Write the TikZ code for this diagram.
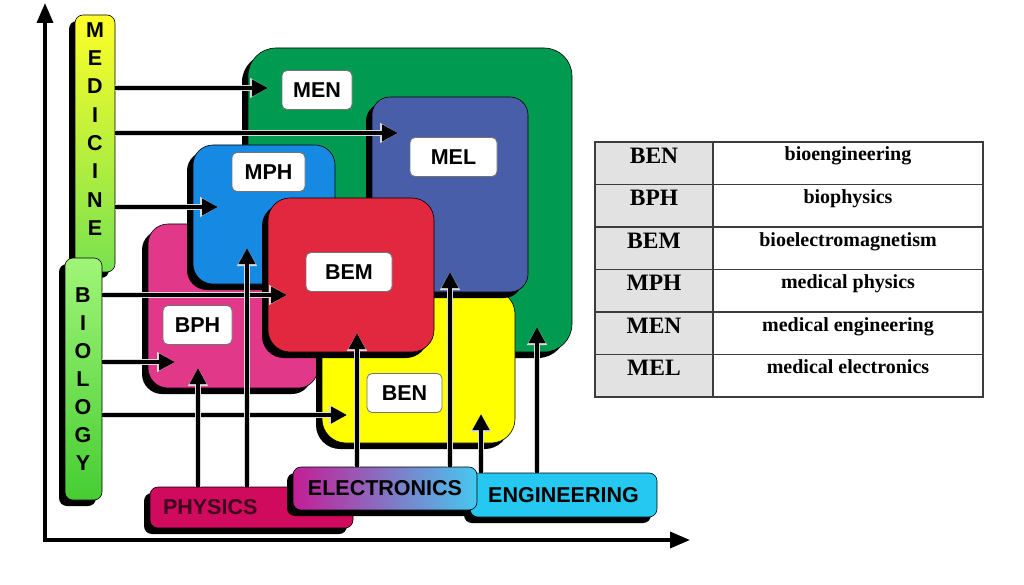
\documentclass[tikz,border=0pt]{standalone}
\usepackage{fontspec}
\setmainfont{Liberation Serif}
\newfontfamily\lsans{Liberation Sans}
\usetikzlibrary{arrows.meta,shadows}
\definecolor{mengreen}{RGB}{0,155,80}
\definecolor{melblue}{RGB}{72,94,168}
\definecolor{mphblue}{RGB}{22,138,226}
\definecolor{bphpink}{RGB}{226,56,138}
\definecolor{bemred}{RGB}{226,40,62}
\definecolor{benyellow}{RGB}{255,255,0}
\definecolor{physred}{RGB}{208,10,92}
\definecolor{physink}{RGB}{60,0,30}
\definecolor{engcyan}{RGB}{36,200,240}
\definecolor{elecmag}{RGB}{196,30,150}
\definecolor{eleccyan}{RGB}{70,200,240}
\definecolor{medtop}{RGB}{255,255,40}
\definecolor{medbottom}{RGB}{120,225,80}
\definecolor{biotop}{RGB}{160,245,120}
\definecolor{biobottom}{RGB}{70,205,50}
\definecolor{cellgray}{RGB}{226,226,226}
\definecolor{rulegray}{RGB}{60,60,60}
\newcommand\diagfont{\lsans\bfseries\fontsize{21.5}{24}\selectfont}
\newcommand\abfont{\bfseries\fontsize{23.5}{26}\selectfont}
\newcommand\fullfont{\bfseries\fontsize{20}{22}\selectfont}

\begin{document}
\begin{tikzpicture}[x=1pt, y=-1pt,
  field/.style={draw=black, line width=0.6pt, inner sep=0pt,
    drop shadow={shadow xshift=-6pt, shadow yshift=-6pt, fill=black, opacity=1}},
  tag/.style={fill=white, draw=black!55, line width=0.8pt, rounded corners=5pt,
    inner sep=0pt, minimum height=39, font=\diagfont},
  letter/.style={inner sep=0pt, font=\diagfont},
  conn/.style={line width=4pt, -{Triangle[width=16pt,length=16pt]},
    preaction={draw=white!85!black, line width=5.5pt, -{Triangle[width=19pt,length=18pt]}}},
  axis/.style={line width=3.5pt, line cap=rect, -{Triangle[width=16pt,length=20pt]}},
  abcell/.style={draw=rulegray, line width=1.2pt, fill=cellgray, minimum width=118,
    minimum height=42.5, text height=15pt, text depth=15pt, inner sep=0pt, font=\abfont},
  fullcell/.style={draw=rulegray, line width=1.2pt, fill=white, minimum width=270,
    minimum height=42.5, text height=12pt, text depth=16.5pt, inner sep=0pt, font=\fullfont}]
\useasboundingbox (0,0) rectangle (1024,585);

\coordinate (origin) at (45,540);
\coordinate (ytip) at (45,3);
\coordinate (xtip) at (690,540);
\draw[axis] (origin) -- (ytip);
\draw[axis] (origin) -- (xtip);

\node[field, fill=mengreen, rounded corners=28pt, minimum width=324, minimum height=304] (men) at (410,200) {};
\node[field, fill=bphpink, rounded corners=20pt, minimum width=170, minimum height=164] (bph) at (233,306) {};
\node[field, fill=benyellow, rounded corners=24pt, minimum width=193, minimum height=153] (ben) at (418.5,366.5) {};
\node[field, fill=melblue, rounded corners=18pt, minimum width=156, minimum height=195] (mel) at (450,194.5) {};
\node[field, fill=mphblue, rounded corners=20pt, minimum width=142, minimum height=139] (mph) at (264,214.5) {};
\node[field, fill=bemred, rounded corners=22pt, minimum width=166, minimum height=154] (bem) at (351,275) {};

\node[tag, minimum width=70] (menlbl) at (317,90) {MEN};
\node[tag, minimum width=87] (mellbl) at (453.5,157) {MEL};
\node[tag, minimum width=73] (mphlbl) at (268.5,172) {MPH};
\node[tag, minimum width=86] (bemlbl) at (349,272) {BEM};
\node[tag, minimum width=69] (bphlbl) at (197.5,325) {BPH};
\node[tag, minimum width=75] (benlbl) at (404.5,393) {BEN};

\node[field, rounded corners=8pt, top color=medtop, bottom color=medbottom, minimum width=40, minimum height=257] (med) at (95,143.5) {};
\node[field, rounded corners=8pt, top color=biotop, bottom color=biobottom, minimum width=37, minimum height=242] (bio) at (83.5,379) {};
\foreach \l [count=\i] in {M,E,D,I,C,I,N,E}
  \node[letter] (med\i) at (95,1.7+28.3*\i) {\l};
\foreach \l [count=\i] in {B,I,O,L,O,G,Y}
  \node[letter] (bio\i) at (83,267+28*\i) {\l};

\node[field, fill=physred, rounded corners=8pt, minimum width=203, minimum height=41, text width=177, align=left, font=\diagfont, text=physink] (phys) at (251.5,507.5) {PHYSICS};
\node[field, fill=engcyan, rounded corners=8pt, minimum width=187, minimum height=44, font=\diagfont] (eng) at (563.5,495) {ENGINEERING};
\node[field, left color=elecmag, right color=eleccyan, rounded corners=8pt, minimum width=184, minimum height=43, font=\diagfont] (elec) at (385,488.5) {ELECTRONICS};

\coordinate (tmen) at (268,88);
\coordinate (tmel) at (398,133);
\coordinate (tmph) at (218,207);
\coordinate (tbem) at (287,295);
\coordinate (tbph) at (175,362);
\coordinate (tben) at (347,415);
\draw[conn] (med.east |- tmen) -- (tmen);
\draw[conn] (med.east |- tmel) -- (tmel);
\draw[conn] (med.east |- tmph) -- (tmph);
\draw[conn] (bio.east |- tbem) -- (tbem);
\draw[conn] (bio.east |- tbph) -- (tbph);
\draw[conn] (bio.east |- tben) -- (tben);

\coordinate (ubph) at (198,368);
\coordinate (umph) at (247,248);
\coordinate (ubem) at (357,333);
\coordinate (umel) at (450,272);
\coordinate (uben) at (481,414);
\coordinate (umen) at (537,327);
\draw[conn] (phys.north -| ubph) -- (ubph);
\draw[conn] (phys.north -| umph) -- (umph);
\draw[conn] (elec.north -| ubem) -- (ubem);
\draw[conn] (elec.north -| umel) -- (umel);
\draw[conn] (eng.north -| uben) -- (uben);
\draw[conn] (eng.north -| umen) -- (umen);

\foreach \ab/\full [count=\i] in {BEN/bioengineering, BPH/biophysics, BEM/bioelectromagnetism, MPH/medical physics, MEN/medical engineering, MEL/medical electronics}{
  \node[abcell] (ab\i) at (654,120.75+42.5*\i) {\ab};
  \node[fullcell] (full\i) at (848,120.75+42.5*\i) {\full};
}

\end{tikzpicture}
\end{document}
